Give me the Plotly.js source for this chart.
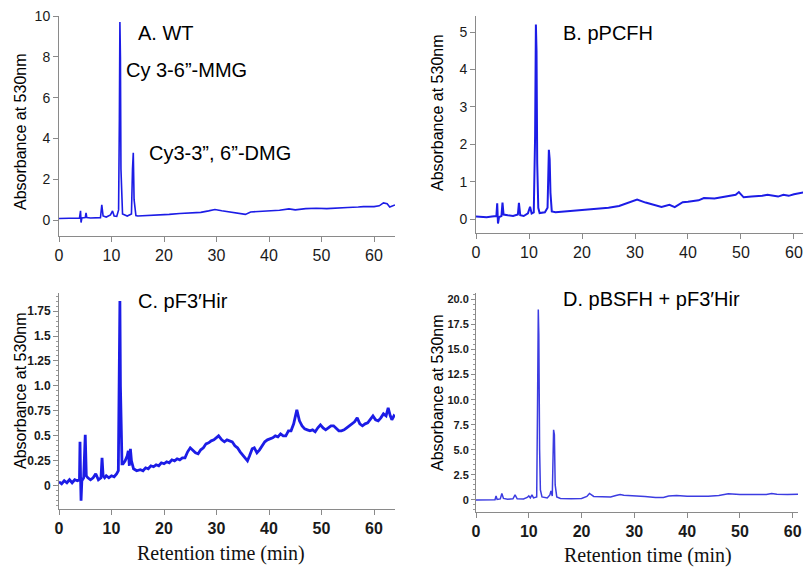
<!DOCTYPE html>
<html><head><meta charset="utf-8">
<script src="https://cdn.plot.ly/plotly-3.0.1.min.js"></script>
<style>html,body{margin:0;padding:0;background:#fff}</style>
</head><body><div id="plot" style="width:803px;height:568px"></div>
<script>
// Panel A: WT
const wtTime = [0,1,2,3,3.9,4.1,4.2,4.35,5.0,5.15,5.3,6,7,7.9,8.15,8.4,9,9.8,10.2,10.5,11.0,11.35,11.5,11.6,11.7,11.8,11.95,12.1,13.0,13.8,14.0,14.15,14.3,14.45,14.65,15,17,19,21,23,25,27,28.5,29.7,31,33,35.5,36.5,38,40,42,43.8,45,47,49,51,53,55,57,58,60,61,61.8,62.5,63,63.5,64];
const wtAbs  = [0.08,0.09,0.1,0.1,0.1,0.45,-0.12,0.1,0.12,0.35,0.12,0.1,0.1,0.12,0.75,0.2,0.15,0.25,0.45,0.2,0.18,0.5,5.0,9.7,8.0,2.5,0.6,0.3,0.2,0.3,2.5,3.3,1.0,0.6,0.22,0.2,0.22,0.26,0.28,0.32,0.34,0.38,0.45,0.52,0.46,0.38,0.28,0.4,0.42,0.46,0.48,0.55,0.5,0.56,0.58,0.56,0.6,0.62,0.64,0.66,0.66,0.7,0.84,0.8,0.64,0.7,0.74];

// Panel B: pPCFH
const pcfhTime = [0,1,2,3,3.85,4.0,4.15,4.35,4.8,5.0,5.2,6,7,7.9,8.1,8.35,9,9.8,10.2,10.5,10.9,11.15,11.3,11.42,11.55,11.75,12.0,13,13.5,13.75,13.9,14.05,14.3,15,17,19,21,23,25,27,29,30.4,32,34,35,36.5,37.5,39,40,42,43,45,47,49,49.6,50.5,52,54,55,56,57,58,59,60,61,62];
const pcfhAbs  = [0.07,0.06,0.05,0.07,0.08,0.42,-0.12,0.05,0.08,0.44,0.12,0.1,0.08,0.12,0.43,0.1,0.08,0.15,0.33,0.15,0.18,2.2,5.2,4.5,1.5,0.3,0.16,0.18,0.3,1.85,1.6,0.7,0.2,0.18,0.2,0.24,0.25,0.28,0.3,0.35,0.45,0.52,0.44,0.35,0.32,0.38,0.32,0.45,0.46,0.5,0.56,0.55,0.6,0.65,0.72,0.58,0.6,0.62,0.65,0.62,0.6,0.65,0.62,0.66,0.68,0.72];

// Panel C: pF3'Hir
const f3hTime = [0,0.5,1,1.5,2,2.5,3,3.5,3.9,4.0,4.1,4.2,4.35,4.7,5.0,5.2,5.5,6,6.5,7,7.5,8,8.2,8.4,8.7,9,9.5,10,10.5,11,11.3,11.5,11.6,11.7,11.85,12.0,12.2,12.6,13.0,13.2,13.4,13.6,13.8,14.2,14.8,15.5,16,16.5,17,17.5,18,18.5,19,19.5,20,20.5,21,21.5,22,22.5,23,23.5,24,24.5,25,25.5,26,26.5,27,27.5,28,28.5,29,29.5,30,30.4,31,31.5,32,32.5,33,33.5,34,34.5,35,35.5,35.9,36.3,36.8,37.2,37.7,38.2,38.7,39.2,39.7,40.2,40.7,41.2,41.7,42.2,42.7,43.2,43.7,44.2,44.7,45.3,45.8,46.3,46.8,47.3,47.8,48.3,48.8,49.3,49.8,50.3,50.8,51.3,51.8,52.3,52.8,53.3,53.8,54.3,54.8,55.3,55.8,56.3,56.8,57.3,57.8,58.3,58.8,59.3,59.8,60.3,60.8,61.3,61.8,62.3,62.7,63.1,63.4,63.8,64];
const f3hAbs  = [0.04,0.02,0.05,0.03,0.06,0.03,0.06,0.05,0.06,0.44,0.1,-0.15,0.05,0.08,0.51,0.1,0.08,0.06,0.08,0.12,0.06,0.08,0.28,0.1,0.08,0.1,0.08,0.1,0.09,0.12,0.15,1.35,1.85,1.0,0.3,0.22,0.22,0.25,0.3,0.35,0.2,0.37,0.25,0.17,0.15,0.16,0.15,0.18,0.17,0.2,0.19,0.21,0.2,0.23,0.22,0.24,0.23,0.26,0.25,0.27,0.26,0.28,0.28,0.34,0.38,0.35,0.33,0.32,0.36,0.38,0.42,0.43,0.45,0.46,0.48,0.5,0.46,0.44,0.46,0.45,0.44,0.4,0.38,0.34,0.31,0.28,0.25,0.3,0.37,0.38,0.33,0.36,0.4,0.44,0.46,0.47,0.48,0.5,0.49,0.52,0.5,0.5,0.55,0.55,0.62,0.76,0.65,0.6,0.57,0.56,0.55,0.56,0.54,0.58,0.61,0.58,0.56,0.58,0.6,0.6,0.57,0.55,0.55,0.56,0.58,0.6,0.62,0.64,0.68,0.62,0.6,0.62,0.63,0.66,0.7,0.66,0.65,0.68,0.72,0.7,0.78,0.7,0.66,0.7,0.69];

// Panel D: pBSFH + pF3'Hir
const bsfhTime = [0,2,3.6,3.8,4.0,4.6,4.9,5.2,6,7,7.4,7.8,9,9.7,10.0,10.3,10.6,10.9,11.5,11.65,11.8,11.9,12.05,12.2,12.5,13.5,14.0,14.2,14.45,14.6,14.7,14.85,15.0,15.3,16,18,20,21,21.5,22.3,24,25.5,26.5,27.3,28,30,32,34,35.5,36.5,38,40,42,44,46,47.8,50,53,55,56,57,59,61];
const bsfhAbs  = [0.0,0.0,0.02,0.4,0.05,0.1,0.65,0.15,0.08,0.12,0.5,0.12,0.1,0.25,0.4,0.2,0.5,0.2,0.3,9.0,19.0,16.5,5.0,1.0,0.3,0.2,0.5,0.9,0.4,5.0,7.0,6.5,1.5,0.3,0.15,0.12,0.15,0.35,0.65,0.35,0.3,0.3,0.45,0.55,0.48,0.45,0.35,0.25,0.25,0.4,0.45,0.38,0.35,0.38,0.45,0.62,0.55,0.52,0.55,0.65,0.58,0.55,0.58];

const cTicks = [0,0.25,0.5,0.75,1.0,1.25,1.5,1.75];
const cTickText = ['0','0.25','0.5','0.75','1.0','1.25','1.5','1.75'];
const dTicks = [0,2.5,5,7.5,10,12.5,15,17.5,20];
const dTickText = ['0','2.5','5.0','7.5','10.0','12.5','15.0','17.5','20.0'];
const xTitle = 'Retention time (min)';
const yTitle = 'Absorbance at 530nm';

const W = 803, H = 568;
const px = v => v / W, py = v => 1 - v / H;

const blue = 'rgb(28,28,230)';
const traces = [
  {x: wtTime, y: wtAbs, xaxis: 'x', yaxis: 'y', mode: 'lines', line: {color: blue, width: 1.6}},
  {x: pcfhTime, y: pcfhAbs, xaxis: 'x2', yaxis: 'y2', mode: 'lines', line: {color: blue, width: 2}},
  {x: f3hTime, y: f3hAbs, xaxis: 'x3', yaxis: 'y3', mode: 'lines', line: {color: blue, width: 2.8}},
  {x: bsfhTime, y: bsfhAbs, xaxis: 'x4', yaxis: 'y4', mode: 'lines', line: {color: 'rgb(60,60,225)', width: 1.5}}
];

const font = 'Liberation Sans, Arial, sans-serif';
function xax(dom, range, anchor, bold) {
  return {domain: dom, range: range, anchor: anchor, showline: true, linecolor: '#8a8a8a', linewidth: 1,
    ticks: 'outside', ticklen: 5, tickcolor: '#8a8a8a', showgrid: false, zeroline: false,
    tickmode: 'linear', tick0: 0, dtick: 10,
    tickfont: {family: font, size: 16, color: '#1a1a1a', weight: bold ? 'bold' : 'normal'}};
}
function yax(dom, range, anchor, extra) {
  return Object.assign({domain: dom, range: range, anchor: anchor, showline: true, linecolor: '#8a8a8a', linewidth: 1,
    ticks: 'outside', ticklen: 5, tickcolor: '#8a8a8a', showgrid: false, zeroline: false,
    tickfont: {family: font, size: 14, color: '#1a1a1a'}}, extra);
}

const layout = {
  width: W, height: H, margin: {l: 0, r: 0, t: 0, b: 0},
  paper_bgcolor: '#fff', plot_bgcolor: '#fff', showlegend: false,
  xaxis:  xax([px(59), px(395)], [0, 64], 'y', false),
  yaxis:  yax([py(236), py(16)], [-0.78, 10], 'x', {tickmode: 'linear', tick0: 0, dtick: 2}),
  xaxis2: xax([px(476), 1], [0, 61.7], 'y2', false),
  yaxis2: yax([py(233), py(16)], [-0.374, 5.43], 'x2', {tickmode: 'linear', tick0: 0, dtick: 1}),
  xaxis3: xax([px(59), px(395)], [0, 64], 'y3', true),
  yaxis3: yax([py(509), py(292.7)], [-0.233, 1.934], 'x3', {tickmode: 'array', tickvals: cTicks, ticktext: cTickText,
           tickfont: {family: font, size: 12, color: '#1a1a1a', weight: 'bold'},
           minor: {tickmode: 'linear', tick0: 0, dtick: 0.05, ticklen: 2, tickcolor: '#9a9a9a', ticks: 'outside'}}),
  xaxis4: xax([px(476), px(798)], [0, 61], 'y4', true),
  yaxis4: yax([py(512), py(292.7)], [-1.2, 20.67], 'x4', {tickmode: 'array', tickvals: dTicks, ticktext: dTickText,
           ticklen: 4,
           tickfont: {family: font, size: 11, color: '#1a1a1a', weight: 'bold'},
           minor: {tickmode: 'linear', tick0: 0, dtick: 0.5, ticklen: 2, tickcolor: '#9a9a9a', ticks: 'outside'}}),
  annotations: []
};

function ann(text, x, y, size, xanchor, extra) {
  return Object.assign({text: text, x: px(x), y: py(y), xref: 'paper', yref: 'paper', showarrow: false,
    xanchor: xanchor, yanchor: 'middle', font: {family: font, size: size, color: '#000'}}, extra || {});
}
layout.annotations.push(
  ann('A. WT', 136, 33, 20, 'left'),
  ann('Cy 3-6\u201d-MMG', 124, 70, 20, 'left'),
  ann('Cy3-3\u201d, 6\u201d-DMG', 147, 153, 20, 'left'),
  ann('B. pPCFH', 561, 33, 20, 'left'),
  ann('C. pF3\u2032Hir', 136, 301, 20, 'left'),
  ann('D. pBSFH + pF3\u2032Hir', 561, 299, 20, 'left'),
  ann(yTitle, 20, 132, 16, 'center', {textangle: -90}),
  ann(yTitle, 438, 112, 16, 'center', {textangle: -90}),
  ann(yTitle, 20, 391, 16, 'center', {textangle: -90}),
  ann(yTitle, 437, 392, 16, 'center', {textangle: -90}),
  ann(xTitle, 221, 553, 20, 'center', {font: {family: 'Liberation Serif, Times New Roman, serif', size: 20, color: '#111'}}),
  ann(xTitle, 648, 555, 20, 'center', {font: {family: 'Liberation Serif, Times New Roman, serif', size: 20, color: '#111'}})
);

Plotly.newPlot('plot', traces, layout, {staticPlot: true, displayModeBar: false});
</script>
</body></html>
